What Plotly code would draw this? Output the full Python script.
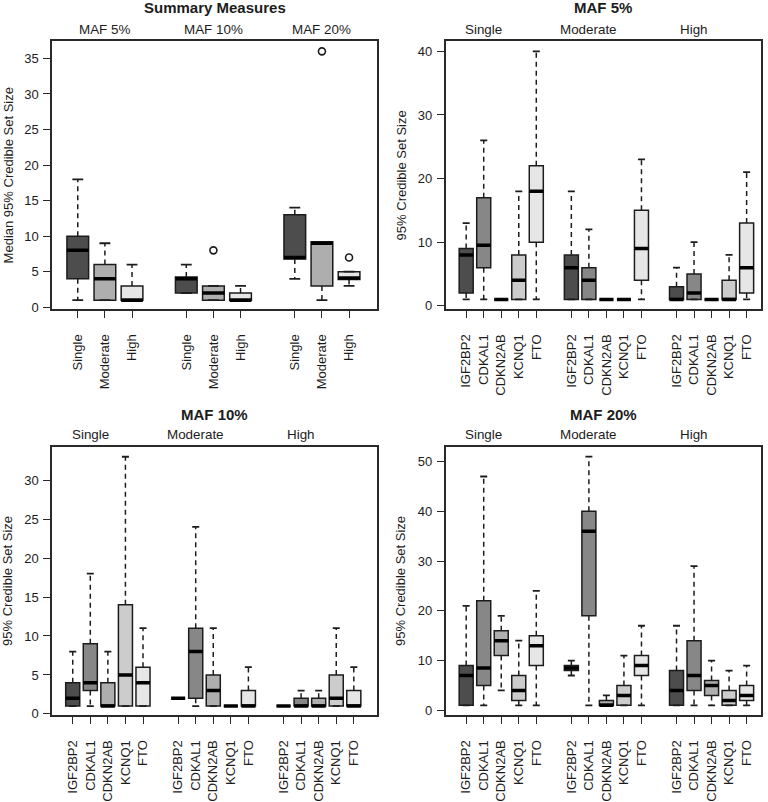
import plotly.graph_objects as go

# ---------------- data ----------------
classes = ["Single", "Moderate", "High"]
maf_levels = ["MAF 5%", "MAF 10%", "MAF 20%"]
genes = ["IGF2BP2", "CDKAL1", "CDKN2AB", "KCNQ1", "FTO"]

# Summary measures (order: MAF5 Single/Moderate/High, MAF10 ..., MAF20 ...)
sum_positions = [1, 2, 3, 5, 6, 7, 9, 10, 11]
sum_lower = [1, 1, 1, 2, 1, 1, 4, 1, 3]
sum_q1 = [4, 1, 1, 2, 1, 1, 6.8, 3, 3.9]
sum_median = [8, 4, 1, 4, 2, 1, 7, 9, 4.1]
sum_q3 = [10, 6, 3, 4.25, 3, 2, 13, 9.2, 5]
sum_upper = [18, 9, 6, 6, 3, 3, 14, 9.2, 5]
sum_outlier_idx = [4, 7, 8]
sum_outlier_val = [8, 36, 7]

# Gene panels (order: Single genes, Moderate genes, High genes)
gene_positions = [1, 2, 3, 4, 5, 7, 8, 9, 10, 11, 13, 14, 15, 16, 17]

maf5_lower = [1, 1, 1, 1, 1, 1, 1, 1, 1, 1, 1, 1, 1, 1, 1]
maf5_q1 = [2, 6, 1, 1, 10, 1, 1, 1, 1, 4, 1, 1, 1, 1, 2]
maf5_median = [8, 9.5, 1, 4, 18, 6, 4, 1, 1, 9, 1, 2, 1, 1, 6]
maf5_q3 = [9, 17, 1, 8, 22, 8, 6, 1, 1, 15, 3, 5, 1, 4, 13]
maf5_upper = [13, 26, 1, 18, 40, 18, 12, 1, 1, 23, 6, 10, 1, 8, 21]

maf10_lower = [1, 1, 1, 1, 1, 2, 1, 1, 1, 1, 1, 1, 1, 1, 1]
maf10_q1 = [1, 3, 1, 1, 1, 2, 2, 1, 1, 1, 1, 1, 1, 1, 1]
maf10_median = [2, 4, 1, 5, 4, 2, 8, 3, 1, 1, 1, 1, 1, 2, 1]
maf10_q3 = [4, 9, 4, 14, 6, 2, 11, 5, 1, 3, 1, 2, 2, 5, 3]
maf10_upper = [8, 18, 8, 33, 11, 2, 24, 11, 1, 6, 1, 3, 3, 11, 6]

maf20_lower = [1, 1, 4, 1, 1, 7, 1, 1, 1, 1, 1, 1, 1, 1, 1]
maf20_q1 = [1, 5, 11, 2, 9, 8, 19, 1, 1, 7, 1, 4, 3, 1, 2]
maf20_median = [7, 8.5, 14, 4, 13, 8.5, 36, 1, 3, 9, 4, 7, 5, 2, 3]
maf20_q3 = [9, 22, 16, 7, 15, 9, 40, 2, 5, 11, 8, 14, 6, 4, 5]
maf20_upper = [21, 47, 19, 14, 24, 10, 51, 3, 11, 17, 17, 29, 10, 8, 9]

class_colors = ["#4D4D4D", "#AEAEAE", "#E6E6E6"]
gene_colors = ["#4D4D4D", "#878787", "#AEAEAE", "#CCCCCC", "#E6E6E6"]

# ---------------- figure ----------------
W, H = 768, 802
FONT = "Liberation Sans, Arial, sans-serif"
INK = "#1c1c1c"
fig = go.Figure()

BOXW = 0.8


def add_panel(ax, positions, lower, q1, med, q3, upper, colors, out_idx=(), out_val=()):
    xa, ya = "x" + ("" if ax == 1 else str(ax)), "y" + ("" if ax == 1 else str(ax))
    wx, wy = [], []
    sx, sy = [], []
    mx, my = [], []
    for p, lo, a, m, b, hi in zip(positions, lower, q1, med, q3, upper):
        wx += [p, p, None, p, p, None]
        wy += [b, hi, None, a, lo, None]
        sx += [p - BOXW / 4, p + BOXW / 4, None, p - BOXW / 4, p + BOXW / 4, None]
        sy += [hi, hi, None, lo, lo, None]
        mx += [p - BOXW / 2, p + BOXW / 2, None]
        my += [m, m, None]
    fig.add_trace(go.Scatter(x=wx, y=wy, mode="lines", xaxis=xa, yaxis=ya,
                             line=dict(color=INK, width=1.5, dash="5px,4px"),
                             showlegend=False, hoverinfo="skip"))
    fig.add_trace(go.Scatter(x=sx, y=sy, mode="lines", xaxis=xa, yaxis=ya,
                             line=dict(color=INK, width=1.8),
                             showlegend=False, hoverinfo="skip"))
    for i, p in enumerate(positions):
        fig.add_trace(go.Box(x=[p], q1=[q1[i]], median=[med[i]], q3=[q3[i]],
                             lowerfence=[q1[i]], upperfence=[q3[i]],
                             width=BOXW, whiskerwidth=0, boxpoints=False,
                             fillcolor=colors[i], line=dict(color=INK, width=1.5),
                             xaxis=xa, yaxis=ya, showlegend=False, hoverinfo="skip"))
    fig.add_trace(go.Scatter(x=mx, y=my, mode="lines", xaxis=xa, yaxis=ya,
                             line=dict(color="#000000", width=3.5),
                             showlegend=False, hoverinfo="skip"))
    if len(out_idx):
        fig.add_trace(go.Scatter(x=[positions[i] for i in out_idx], y=list(out_val),
                                 mode="markers", xaxis=xa, yaxis=ya,
                                 marker=dict(symbol="circle-open", size=7,
                                             color=INK, line=dict(width=1.6)),
                                 showlegend=False, hoverinfo="skip"))


add_panel(1, sum_positions, sum_lower, sum_q1, sum_median, sum_q3, sum_upper,
          class_colors * 3, sum_outlier_idx, sum_outlier_val)
add_panel(2, gene_positions, maf5_lower, maf5_q1, maf5_median, maf5_q3, maf5_upper,
          gene_colors * 3)
add_panel(3, gene_positions, maf10_lower, maf10_q1, maf10_median, maf10_q3, maf10_upper,
          gene_colors * 3)
add_panel(4, gene_positions, maf20_lower, maf20_q1, maf20_median, maf20_q3, maf20_upper,
          gene_colors * 3)

# panel geometry (pixels)
left_x = [52 / W, 377 / W]
right_x = [445.5 / W, 761 / W]
top_y = [1 - 311.7 / H, 1 - 41.7 / H]
bot_y = [1 - 720.7 / H, 1 - 450 / H]

axis_common = dict(showline=True, mirror=True, linecolor="#2a2a2a", linewidth=1.5,
                   ticks="outside", ticklen=7, tickwidth=1.2, tickcolor="#2a2a2a",
                   showgrid=False, zeroline=False, fixedrange=True,
                   tickfont=dict(family=FONT, size=13, color=INK))

panels = [
    dict(x=left_x, y=top_y, xr=[0.05, 12.03], yr=[-0.3, 37.4], ytv=[0, 5, 10, 15, 20, 25, 30, 35],
         xtv=sum_positions, xtt=classes * 3),
    dict(x=right_x, y=top_y, xr=[-0.18, 17.82], yr=[-0.56, 41.56], ytv=[0, 10, 20, 30, 40],
         xtv=gene_positions, xtt=genes * 3),
    dict(x=left_x, y=bot_y, xr=[-0.18, 18.32], yr=[-0.18, 34.3], ytv=[0, 5, 10, 15, 20, 25, 30],
         xtv=gene_positions, xtt=genes * 3),
    dict(x=right_x, y=bot_y, xr=[-0.18, 17.82], yr=[-1, 53], ytv=[0, 10, 20, 30, 40, 50],
         xtv=gene_positions, xtt=genes * 3),
]

layout = dict(width=W, height=H, autosize=False, margin=dict(l=0, r=0, t=0, b=0),
              paper_bgcolor="white", plot_bgcolor="white", boxmode="overlay",
              showlegend=False, font=dict(family=FONT, color=INK))
for i, p in enumerate(panels, start=1):
    sfx = "" if i == 1 else str(i)
    layout["xaxis" + sfx] = dict(axis_common, domain=p["x"], range=p["xr"],
                                 tickmode="array", tickvals=p["xtv"], ticktext=p["xtt"],
                                 tickangle=-90, anchor="y" + sfx, ticklabelstandoff=11)
    layout["yaxis" + sfx] = dict(axis_common, domain=p["y"], range=p["yr"],
                                 tickmode="array", tickvals=p["ytv"],
                                 anchor="x" + sfx, ticklabelstandoff=2)
fig.update_layout(**layout)

# ---------------- text ----------------
titles = ["Summary Measures", "MAF 5%", "MAF 10%", "MAF 20%"]
title_y = [8, 8, 417.5, 417.5]
group_y = [30, 30, 438, 438]
group_labels = [maf_levels, classes, classes, classes]
group_pos = [[2, 6, 10], [2, 8, 14], [2, 8, 14], [2, 8, 14]]
ylabels = ["Median 95% Credible Set Size", "95% Credible Set Size",
           "95% Credible Set Size", "95% Credible Set Size"]
ylab_x = [8, 401, 8, 401]

ann = []
for i, p in enumerate(panels):
    sfx = "" if i == 0 else str(i + 1)
    ann.append(dict(text="<b>" + titles[i] + "</b>", xref="paper", yref="paper",
                    x=sum(p["x"]) / 2, y=1 - title_y[i] / H, xanchor="center", yanchor="middle",
                    showarrow=False, font=dict(family=FONT, size=15, color=INK)))
    for lab, gp in zip(group_labels[i], group_pos[i]):
        ann.append(dict(text=lab, xref="x" + sfx, yref="paper", x=gp, y=1 - group_y[i] / H,
                        xanchor="center", yanchor="middle", showarrow=False,
                        font=dict(family=FONT, size=13.4, color=INK)))
    ann.append(dict(text=ylabels[i], xref="paper", yref="paper", x=ylab_x[i] / W,
                    y=sum(p["y"]) / 2, xanchor="center", yanchor="middle", textangle=-90,
                    showarrow=False, font=dict(family=FONT, size=13, color=INK)))
fig.update_layout(annotations=ann)

fig.write_html("out.html", config={"displayModeBar": False},
               post_script="document.body.style.margin='0';document.body.style.overflow='hidden';")
